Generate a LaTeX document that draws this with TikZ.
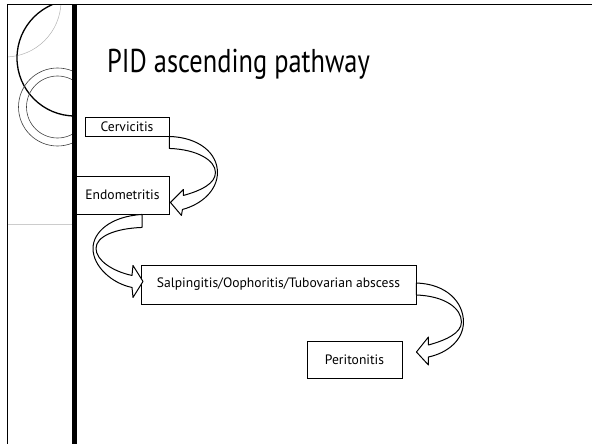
\documentclass[tikz,border=0pt]{standalone}
\usepackage{fontspec}
\setmainfont{PT Sans}
\usetikzlibrary{calc}

\begin{document}
\begin{tikzpicture}[x=1pt, y=-1pt,
  stage/.style={draw, line width=0.9pt, inner sep=0pt, font=\fontsize{13.6}{15}\selectfont},
  band/.style={draw, line width=1pt, fill=white, line join=round},
  deco/.style={line width=0.6pt, draw=black!75}
]
  \useasboundingbox (0,0) rectangle (592,444);

  % slide frame and ornament
  \draw[line width=1.5pt] (7.5,444) -- (7.5,4.5) -- (592,4.5);
  \begin{scope}
    \clip (8,5.5) rectangle (73,444);
    \draw[black!30, line width=0.5pt] (5,1) circle[radius=56];
    \draw[line width=1.3pt] (75,58) circle[radius=58];
    \draw[deco] (57.5,107) circle[radius=39];
    \draw[deco] (57.5,107) circle[radius=31];
  \end{scope}
  \draw[black!20, line width=0.5pt] (8,224) -- (73,224);
  \draw[line width=4.5pt] (74.5,4) -- (74.5,444);

  \node[anchor=base west, inner sep=0pt, font=\fontsize{33}{38}\selectfont] (title) at (107,73) {\scalebox{0.8}[1]{PID ascending pathway}};

  % stages
  \node[stage, minimum width=84pt, minimum height=19pt] (cerv) at (127,126.5) {Cervicitis};
  \node[stage, fill=white, minimum width=93pt, minimum height=38pt] (endo) at (122.5,195) {Endometritis};
  \node[stage, minimum width=275pt, minimum height=39pt] (salp) at (278.5,284.5) {Salpingitis/Oophoritis/Tubovarian abscess};
  \node[stage, minimum width=95pt, minimum height=37pt] (perit) at (354.5,359.5) {Peritonitis};

  % curved block arrows
  \begin{scope}[shift={(cerv.south east)}]
    \draw[band] (0,0) .. controls (30,1) and (48,17) .. (48,36) .. controls (48,54) and (32,68) .. (13,73)
      -- (12,79) -- (1,66) -- (14,53) -- (14,59) .. controls (32,54) and (46,47) .. (46,36)
      .. controls (46,24) and (28,13) .. (0,12) -- cycle;
  \end{scope}
  \begin{scope}[shift={($(endo.south)+(19.5,0)$)}]
    \draw[band] (0,0) .. controls (-32,2) and (-49,18) .. (-49,34) .. controls (-49,52) and (-30,69) .. (-10,73)
      -- (-9,83) -- (1,67) -- (-9,51) -- (-10,61) .. controls (-29,57) and (-46,46) .. (-46,34)
      .. controls (-46,22) and (-27,14) .. (0,13) -- cycle;
  \end{scope}
  \begin{scope}[shift={($(salp.east)+(0,-1.5)$)}]
    \draw[band] (0,0) .. controls (30,1) and (47,19) .. (47,39) .. controls (47,57) and (31,70) .. (12,74)
      -- (12,82) -- (0,69) -- (12,54) -- (12,62) .. controls (30,57) and (45,50) .. (45,39)
      .. controls (45,25) and (28,13) .. (0,12) -- cycle;
  \end{scope}
\end{tikzpicture}
\end{document}
